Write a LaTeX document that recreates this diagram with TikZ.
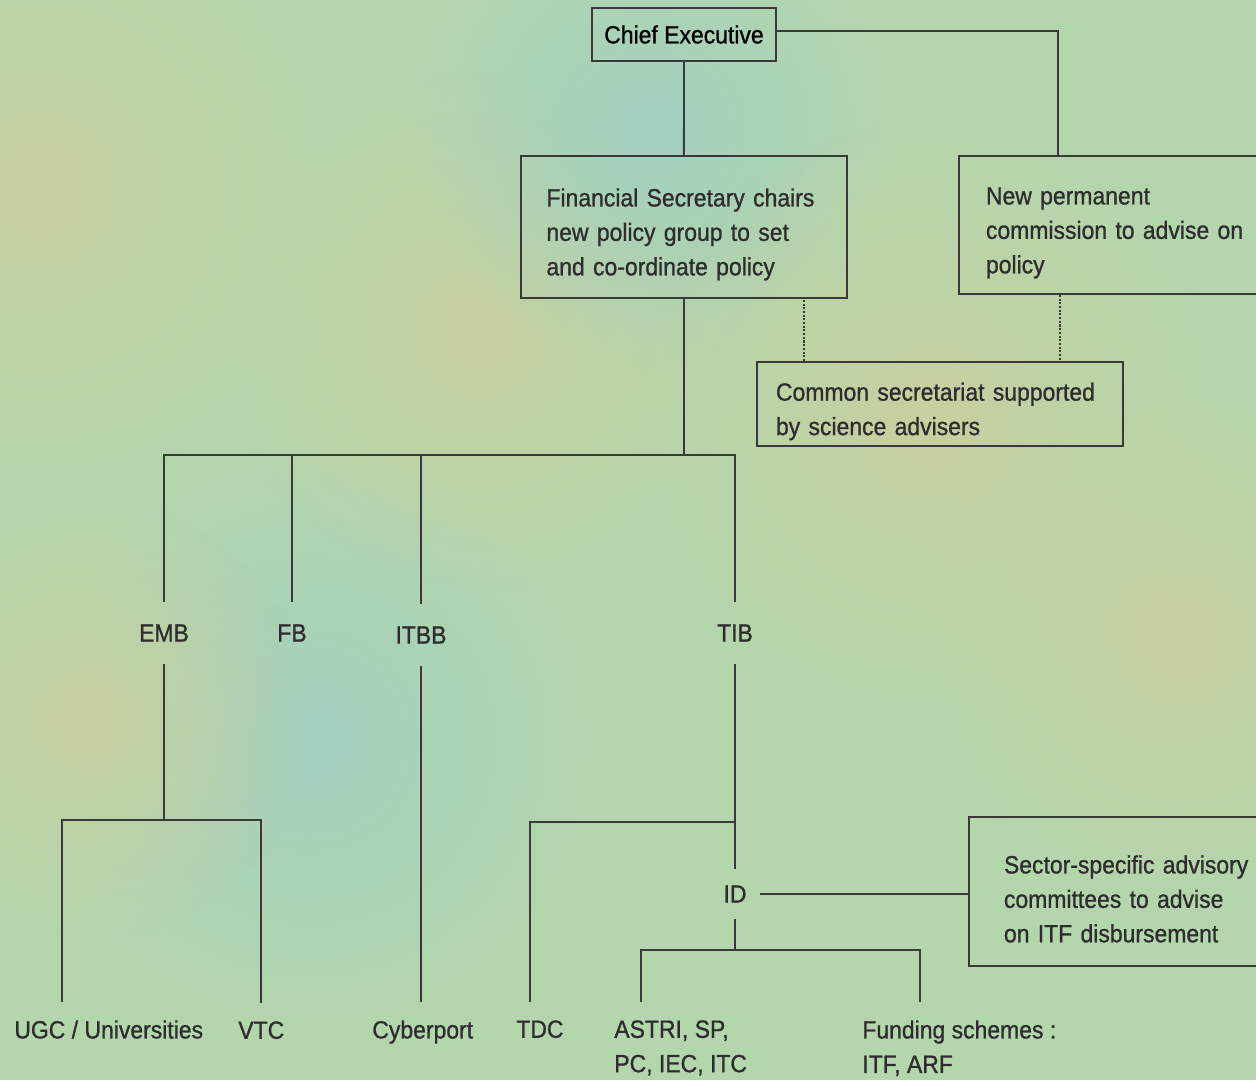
\documentclass[tikz,border=0pt]{standalone}
\usepackage{fontspec}
\setmainfont{Liberation Sans}[FakeStretch=0.92, FakeBold=0.9]
\usetikzlibrary{calc,fadings}
\definecolor{bgcol}{RGB}{180,214,173}
\definecolor{tancol}{RGB}{200,208,160}
\definecolor{bluecol}{RGB}{162,208,192}
\definecolor{linecol}{RGB}{58,58,58}
\definecolor{inkcol}{RGB}{45,45,45}
\tikzfading[name=soft, inner color=transparent!0, outer color=transparent!100]

\begin{document}
\begin{tikzpicture}[x=0.02cm, y=-0.02cm,
    font=\fontsize{14.2}{19.6}\selectfont, text=inkcol]
    \tikzset{box/.style={draw=linecol, line width=1.1pt, inner ysep=0pt},
             tbox/.style={box, anchor=north west, align=left,
                          execute at begin node={\rule{0pt}{0.66cm}}},
             lbl/.style={minimum height=1.24cm, inner sep=0pt},
             leaf/.style={anchor=north west, inner xsep=0pt, inner ysep=0.36cm, align=left},
             link/.style={draw=linecol, line width=1.1pt},
             dotlink/.style={link, line width=0.8pt, dash pattern=on 1.2pt off 0.9pt},
             patch/.style={path fading=soft}}
    \useasboundingbox (0,0) rectangle (1256,1080);
    \clip (0,0) rectangle (1256,1080);
    % background
    \fill[bgcol] (0,0) rectangle (1256,1080);
    \fill[tancol, patch] (40,190) circle (300);
    \fill[tancol, patch] (480,330) circle (260);
    \fill[bluecol, patch] (650,130) circle (240);
    \fill[bluecol, patch] (310,740) circle (280);
    \fill[tancol, patch] (90,720) circle (220);
    \fill[tancol, patch] (930,420) circle (300);
    \fill[tancol, patch] (1180,640) circle (260);

    % boxes
    \node[box, minimum width=3.68cm, minimum height=1.06cm, text=black] (ce) at (684,34.5) {Chief Executive};
    \node[tbox, text width=5.5cm, inner xsep=0.51cm, minimum height=2.84cm] (fs) at (520,155)
        {Financial Secretary chairs\\new policy group to set\\and co-ordinate policy};
    \node[tbox, text width=5.7cm, inner xsep=0.54cm, minimum height=2.76cm] (npc) at (958,155)
        {New permanent\\commission to advise on\\policy};
    \node[tbox, text width=6.56cm, inner xsep=0.38cm, minimum height=1.68cm] (cs) at (756,361)
        {Common secretariat supported\\by science advisers};
    \node[tbox, text width=5.6cm, inner xsep=0.7cm, minimum height=2.98cm] (sac) at (968,816)
        {Sector-specific advisory\\committees to advise\\on ITF disbursement};

    % bureaux
    \node[lbl] (emb) at (164,633) {EMB};
    \node[lbl] (fb) at (292,633) {FB};
    \node[lbl] (itbb) at (421,635) {ITBB};
    \node[lbl] (tib) at (735,633) {TIB};
    \node[minimum size=1cm, inner sep=0pt] (id) at (735,894) {ID};

    % bodies
    \node[leaf] (ugc) at (14,1002) {UGC / Universities};
    \node[leaf] (vtc) at (238,1003) {VTC};
    \node[leaf] (cyber) at (372,1002) {Cyberport};
    \node[leaf] (tdc) at (516,1002) {TDC};
    \node[leaf] (astri) at (614,1002) {ASTRI, SP,\\PC, IEC, ITC};
    \node[leaf] (fund) at (862,1002) {Funding schemes :\\ITF, ARF};

    \coordinate (bus) at (164,455);
    \coordinate (embbus) at (164,820);
    \coordinate (tibbus) at (735,822);
    \coordinate (idbus) at (735,950);

    % connectors
    \draw[link] (ce.south) -- (fs.north);
    \draw[link] ([yshift=0.07cm]ce.east) -| ([xshift=2cm]npc.north west);
    \draw[dotlink] ([xshift=0.96cm]cs.north west) -- ([xshift=0.96cm]cs.north west |- fs.south);
    \draw[dotlink] ([xshift=2.04cm]npc.south west) -- ([xshift=2.04cm]npc.south west |- cs.north);
    \draw[link] (fs.south) -- (fs.south |- bus);
    \draw[link] (emb.north) |- (tib.north |- bus) -- (tib.north);
    \draw[link] (fb.north) -- (fb.north |- bus);
    \draw[link] (itbb.north) -- (itbb.north |- bus);

    \draw[link] (emb.south) -- (embbus);
    \draw[link] ([xshift=0.96cm]ugc.north west) |- (vtc.north |- embbus) -- (vtc.north);
    \draw[link] (itbb.south) -- (itbb.south |- cyber.north);

    \draw[link] (tib.south) -- (id.north);
    \draw[link] ([xshift=0.28cm]tdc.north west) |- (tibbus);
    \draw[link] (id.east) -- (id.east -| sac.west);
    \draw[link] (id.south) -- (idbus);
    \draw[link] ([xshift=0.54cm]astri.north west) |- ([xshift=1.16cm]fund.north west |- idbus)
        -- ([xshift=1.16cm]fund.north west);
\end{tikzpicture}
\end{document}
